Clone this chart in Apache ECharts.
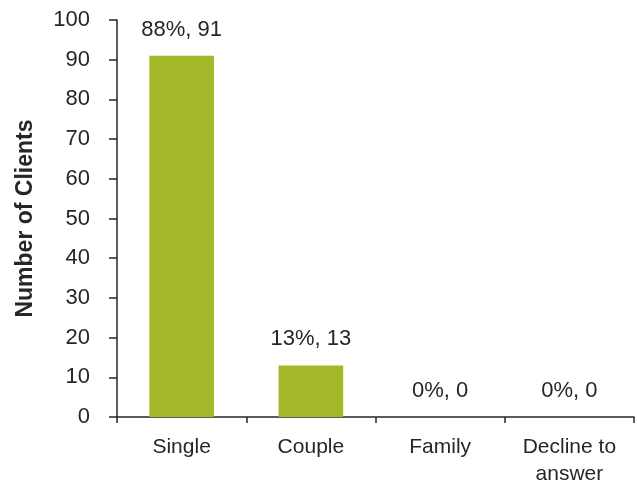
<!DOCTYPE html>
<html>
<head>
<meta charset="utf-8">
<script src="https://cdn.jsdelivr.net/npm/echarts@6/dist/echarts.min.js"></script>
<style>
  html, body { margin: 0; padding: 0; background: #fff; }
  #chart { width: 637px; height: 485px; }
</style>
</head>
<body>
<div id="chart"></div>
<script>
// household type counts
const categories = ['Single', 'Couple', 'Family', 'Decline to\nanswer'];
const clients = [91, 13, 0, 0];
const percents = ['88%', '13%', '0%', '0%'];
const yTicks = { min: 0, max: 100, interval: 10 };

const textColor = '#262626';
const font = 'Liberation Sans';

let myChart = echarts.init(document.getElementById('chart'));
myChart.setOption({
  animation: false,
  grid: { left: 117, right: 3, top: 20, bottom: 68, outerBoundsMode: 'none', containLabel: false },
  xAxis: {
    type: 'category',
    data: categories,
    axisLine: { lineStyle: { color: '#262626', width: 1.5 } },
    axisTick: { show: true, length: 6, lineStyle: { color: '#262626', width: 1.5 } },
    axisLabel: { color: textColor, fontSize: 21, fontFamily: font, margin: 17, lineHeight: 27 }
  },
  yAxis: {
    type: 'value',
    min: yTicks.min,
    max: yTicks.max,
    interval: yTicks.interval,
    name: 'Number of Clients',
    nameLocation: 'middle',
    nameGap: 80,
    nameTextStyle: { color: textColor, fontSize: 23, fontWeight: 'bold', fontFamily: font },
    splitLine: { show: false },
    axisLine: { show: true, lineStyle: { color: '#262626', width: 1.5 } },
    axisTick: { show: true, length: 8, lineStyle: { color: '#262626', width: 1.5 } },
    axisLabel: { color: textColor, fontSize: 22, fontFamily: font, margin: 27 }
  },
  series: [
    {
      name: 'Clients',
      type: 'bar',
      barWidth: '50%',
      data: clients,
      itemStyle: { color: '#A5B82A' },
      label: {
        show: true,
        position: 'top',
        distance: 15,
        color: textColor,
        fontSize: 22,
        fontFamily: font,
        formatter: function (p) { return percents[p.dataIndex] + ', ' + p.value; }
      }
    }
  ]
});
</script>
</body>
</html>
